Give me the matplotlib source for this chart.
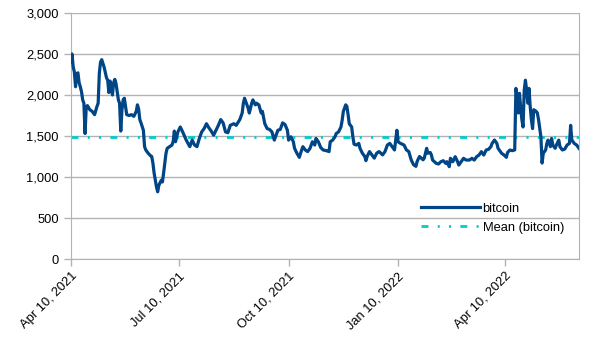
#!/usr/bin/env python3

import numpy as np
import matplotlib
matplotlib.use('Agg')
import matplotlib.pyplot as plt
import matplotlib.dates as mdates

start_date = '2021-04-10'

# days after start_date
day_offsets = [
	0, 1, 2, 3, 4, 5, 6, 7, 8, 9, 10, 11, 12, 13, 14, 16, 18, 20, 22, 23,
	24, 25, 26, 28, 30, 31, 32, 33, 35, 36, 37, 38, 40, 41, 42, 43, 44, 45, 47, 49,
	51, 53, 55, 56, 57, 58, 59, 61, 62, 63, 65, 67, 68, 69, 70, 72, 73, 74, 76, 77,
	78, 80, 81, 83, 85, 86, 87, 88, 90, 92, 94, 97, 100, 102, 104, 106, 108, 110, 112, 114,
	116, 118, 120, 122, 124, 126, 128, 130, 132, 134, 137, 139, 142, 144, 145, 146, 147, 149, 150, 152,
	153, 155, 156, 158, 160, 161, 163, 165, 167, 169, 171, 172, 174, 176, 178, 180, 182, 183, 185, 187,
	188, 190, 192, 194, 195, 197, 199, 201, 203, 205, 206, 208, 210, 212, 215, 217, 218, 220, 222, 223,
	225, 227, 228, 229, 231, 232, 233, 234, 236, 237, 238, 240, 242, 243, 245, 247, 248, 249, 251, 253,
	255, 257, 259, 262, 264, 266, 268, 270, 272, 273, 274, 275, 277, 280, 282, 284, 286, 288, 290, 291,
	293, 296, 297, 299, 300, 302, 303, 304, 307, 309, 311, 313, 315, 316, 318, 319, 321, 323, 325, 326,
	328, 330, 332, 335, 337, 339, 341, 343, 345, 347, 349, 351, 353, 354, 356, 358, 359, 361, 362, 364,
	366, 367, 369, 371, 373, 374, 375, 376, 377, 378, 379, 380, 381, 382, 383, 384, 385, 386, 387, 388,
	389, 391, 392, 393, 395, 396, 397, 399, 400, 401, 403, 404, 405, 407, 408, 410, 411, 413, 415, 417,
	419, 420, 421, 423, 425, 427,
]

bitcoin = [
	2400, 2500, 2345, 2280, 2100, 2260, 2270, 2150, 2100, 2040, 1940, 1900, 1530, 1860, 1870, 1820, 1800, 1760, 1860, 1900,
	2270, 2400, 2430, 2340, 2210, 2180, 2030, 2170, 2000, 2150, 2190, 2140, 1940, 1900, 1560, 1820, 1940, 1960, 1760, 1750,
	1760, 1740, 1800, 1880, 1830, 1700, 1660, 1570, 1370, 1330, 1290, 1260, 1250, 1170, 1050, 880, 820, 900, 960, 940,
	1050, 1290, 1350, 1370, 1390, 1430, 1560, 1430, 1550, 1610, 1550, 1450, 1370, 1450, 1390, 1370, 1470, 1550, 1590, 1650,
	1600, 1560, 1510, 1570, 1630, 1700, 1660, 1550, 1540, 1630, 1650, 1630, 1700, 1780, 1900, 1960, 1920, 1840, 1780, 1900,
	1940, 1880, 1900, 1880, 1780, 1800, 1650, 1590, 1580, 1550, 1450, 1490, 1570, 1580, 1660, 1640, 1570, 1450, 1490, 1430,
	1350, 1290, 1240, 1330, 1370, 1330, 1310, 1350, 1430, 1390, 1470, 1430, 1360, 1330, 1320, 1310, 1430, 1450, 1490, 1530,
	1550, 1610, 1690, 1800, 1880, 1860, 1760, 1650, 1610, 1490, 1400, 1390, 1410, 1350, 1290, 1250, 1200, 1250, 1310, 1270,
	1230, 1290, 1310, 1270, 1310, 1390, 1410, 1370, 1330, 1450, 1570, 1430, 1410, 1390, 1330, 1310, 1210, 1150, 1130, 1190,
	1250, 1210, 1230, 1350, 1290, 1300, 1268, 1207, 1167, 1159, 1187, 1199, 1167, 1187, 1126, 1228, 1187, 1248, 1187, 1146,
	1187, 1228, 1207, 1207, 1228, 1207, 1248, 1268, 1309, 1268, 1329, 1338, 1370, 1410, 1451, 1410, 1350, 1309, 1289, 1268,
	1240, 1300, 1329, 1321, 1330, 2080, 1980, 1780, 2020, 1850, 1700, 1610, 2060, 2180, 2060, 1900, 2080, 1860, 1700, 1590,
	1820, 1800, 1780, 1700, 1490, 1170, 1290, 1330, 1410, 1450, 1370, 1470, 1390, 1350, 1390, 1450, 1370, 1330, 1340, 1390,
	1410, 1630, 1450, 1410, 1390, 1350,
]

mean_bitcoin = 1490

tick_dates = ['2021-04-10', '2021-07-10', '2021-10-10', '2022-01-10', '2022-04-10']
y_ticks = [0, 500, 1000, 1500, 2000, 2500, 3000]


def main():
	plt.rcParams['font.family'] = ['Liberation Sans', 'DejaVu Sans']
	plt.rcParams['font.size'] = 9.3

	dates = np.datetime64(start_date) + np.array(day_offsets).astype('timedelta64[D]')

	fig = plt.figure(figsize=(6.05, 3.4), dpi=100)
	ax = fig.add_axes([0.117, 0.238, 0.840, 0.724])

	ax.plot(dates, bitcoin, color='#004586', lw=2.3, label='bitcoin', zorder=3)
	ax.plot([dates[0], dates[-1]], [mean_bitcoin, mean_bitcoin], color='#00cccc', lw=2.0,
		linestyle=(0, (2.5, 3.35, 0.72, 3.35, 0.72, 3.35)), label='Mean (bitcoin)', zorder=2)

	ax.set_xlim(dates[0], dates[-1])
	ax.set_ylim(0, 3000)
	ax.set_yticks(y_ticks)
	ax.yaxis.set_major_formatter(matplotlib.ticker.FuncFormatter(lambda v, p: '{:,.0f}'.format(v)))
	ax.set_xticks(np.array(tick_dates, dtype='datetime64[D]'))
	ax.xaxis.set_major_formatter(mdates.DateFormatter('%b %d, %Y'))
	plt.setp(ax.get_xticklabels(), rotation=45, ha='right', rotation_mode='anchor')

	ax.grid(axis='y', color='#b3b3b3', lw=1)
	ax.set_axisbelow(True)
	for s in ax.spines.values():
		s.set_color('#b3b3b3')
	ax.spines['top'].set_visible(False)
	ax.tick_params(axis='both', color='#b3b3b3', length=5, width=1, labelcolor='black')
	ax.tick_params(axis='x', pad=3)

	ax.legend(loc='upper left', bbox_to_anchor=(0.678, 0.25), frameon=False, handlelength=4.6,
		handletextpad=0.2, borderaxespad=0, labelspacing=0.55)

	fig.savefig('out.png', dpi=100)


if __name__ == '__main__':
	main()
